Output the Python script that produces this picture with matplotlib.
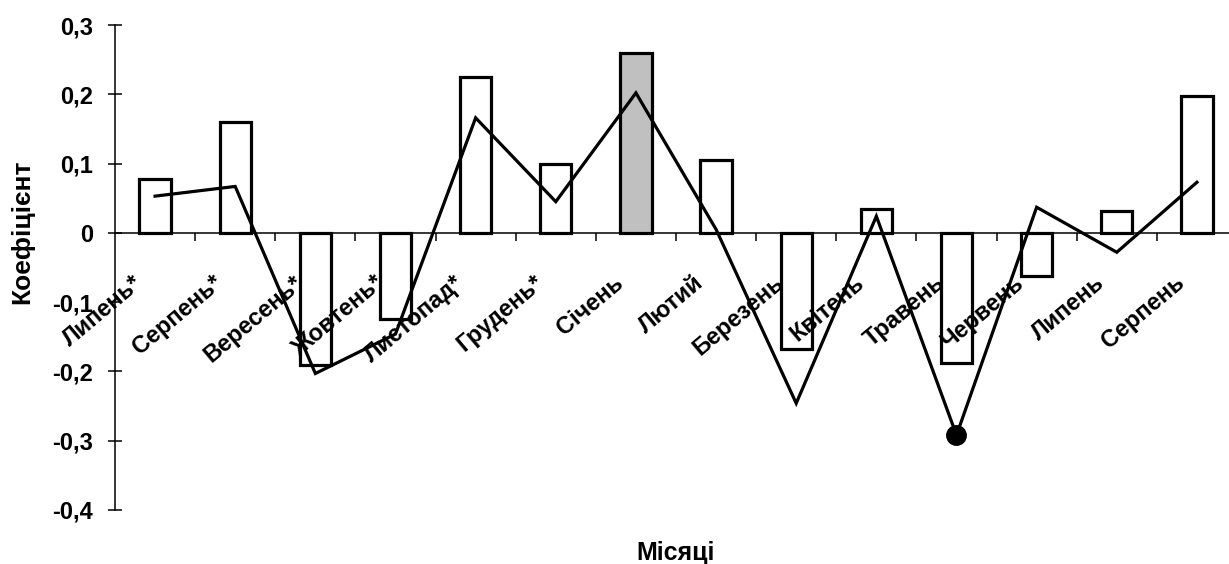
#!/usr/bin/env python3
"""
Monthly coefficients: bars plus a line, Ukrainian month labels
"""
import matplotlib
matplotlib.use('Agg')
import matplotlib.pyplot as plt
from matplotlib.ticker import FixedLocator, FuncFormatter

# Data
months = ['Липень*', 'Серпень*', 'Вересень*', 'Жовтень*', 'Листопад*', 'Грудень*',
          'Січень', 'Лютий', 'Березень', 'Квітень', 'Травень', 'Червень',
          'Липень', 'Серпень']
bar_values = [0.078, 0.16, -0.191, -0.125, 0.225, 0.10, 0.26,
              0.105, -0.168, 0.035, -0.188, -0.062, 0.031, 0.198]
line_values = [0.053, 0.067, -0.203, -0.146, 0.166, 0.045, 0.202,
               0.005, -0.246, 0.024, -0.292, 0.037, -0.028, 0.073]
highlight_bar = 'Січень'
marked_point = 'Травень'
y_ticks = [-0.4, -0.3, -0.2, -0.1, 0, 0.1, 0.2, 0.3]

plt.rcParams['font.family'] = ['Liberation Sans', 'DejaVu Sans']
plt.rcParams['font.weight'] = 'bold'

fig = plt.figure(figsize=(12.29, 5.64), dpi=100)
# right edge runs slightly past the figure, as in the reference
ax = fig.add_axes([115 / 1229, 54 / 564, 1122 / 1229, 485 / 564])

x = list(range(len(months)))
colors = ['#c0c0c0' if m == highlight_bar else 'white' for m in months]
ax.bar(x, bar_values, width=0.39, color=colors, edgecolor='black',
       linewidth=2.3, zorder=2)
ax.plot(x, line_values, color='black', linewidth=2.3, zorder=3,
        solid_joinstyle='miter')
k = months.index(marked_point)
ax.plot([x[k]], [line_values[k]], 'o', color='black', markersize=14, zorder=4)

ax.set_xlim(-0.5, len(months) - 0.5)
ax.set_ylim(-0.4, 0.3)

for s in ['top', 'right']:
    ax.spines[s].set_visible(False)
ax.spines['bottom'].set_position(('data', 0))
ax.spines['bottom'].set_linewidth(1.1)
ax.spines['left'].set_linewidth(1.1)

ax.yaxis.set_major_locator(FixedLocator(y_ticks))
ax.yaxis.set_major_formatter(FuncFormatter(
    lambda v, p: '0' if abs(v) < 1e-9 else f'{v:.1f}'.replace('.', ',')))
ax.tick_params(axis='y', direction='inout', length=10, width=1.1,
               labelsize=17, pad=11)

ax.xaxis.set_major_locator(FixedLocator([i + 0.5 for i in x[:-1]]))
ax.tick_params(axis='x', direction='out', length=6, width=1.1,
               labelbottom=False)

# rotated category labels hanging below the zero line
for i, m in enumerate(months):
    ax.annotate(m, xy=(i, 0), xytext=(-11, -34), textcoords='offset points',
                rotation=40, rotation_mode='anchor', ha='right', va='center',
                fontsize=17, fontweight='bold')

fig.text(22 / 1229, 332 / 564, 'Коефіцієнт', rotation=90, ha='center',
         va='center', fontsize=19, fontweight='bold')
fig.text(676 / 1229, 11 / 564, 'Місяці', ha='center', va='center',
         fontsize=18, fontweight='bold')

fig.savefig('out.png', dpi=100)
